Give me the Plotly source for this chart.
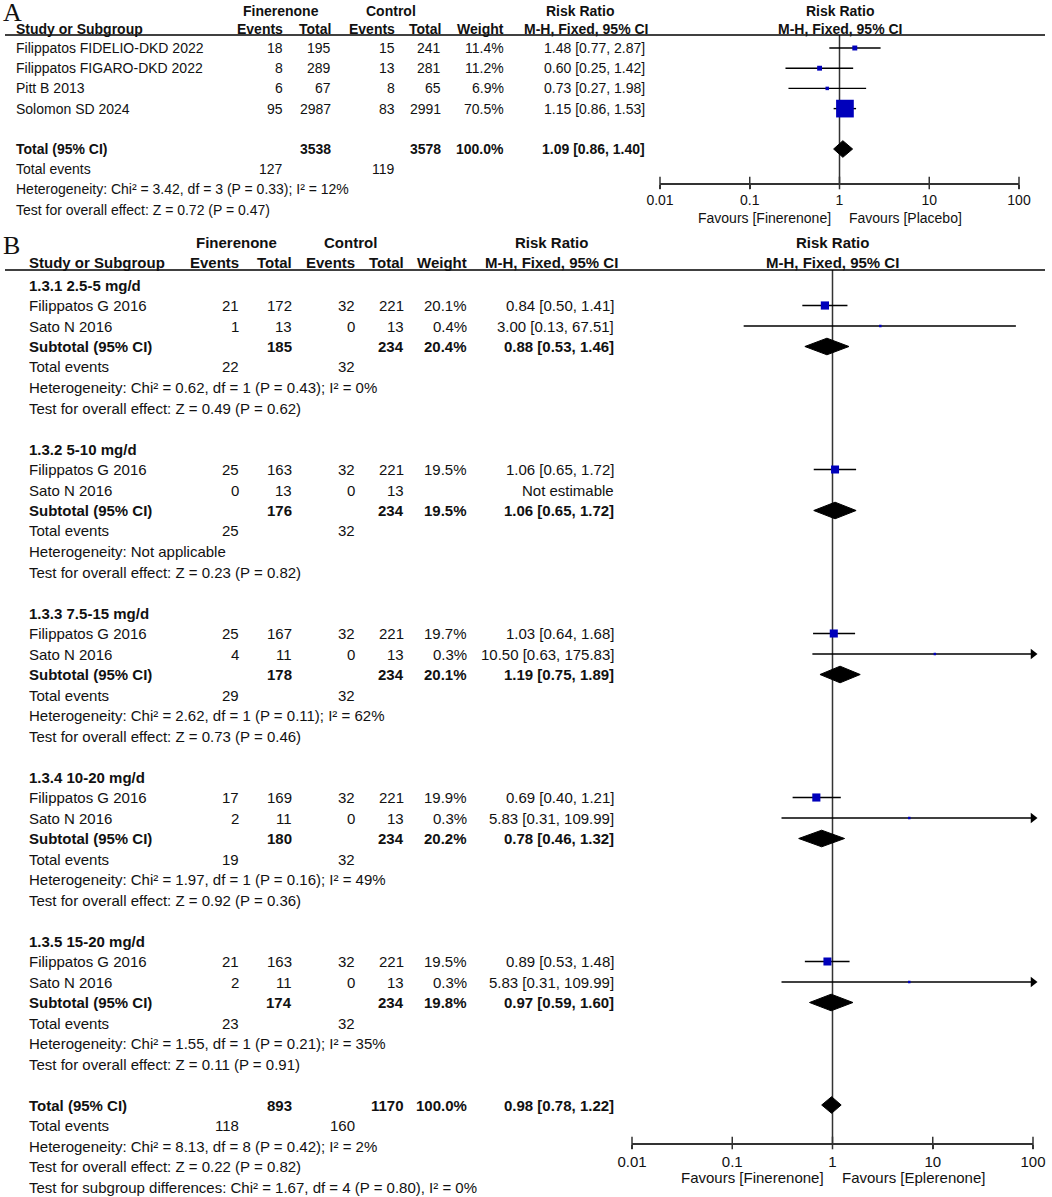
import plotly.graph_objects as go

W, H = 1052, 1197
FONT = "Liberation Sans, Arial, Helvetica, sans-serif"
SERIF = "Liberation Serif, Times New Roman, serif"
TXT = "#111111"
BLUE = "#0000BB"
INK = "#000000"
AXC = "#333333"

# ---------------- shared axis ticks ----------------
tick_vals = [0.01, 0.1, 1, 10, 100]
tick_text = ["0.01", "0.1", "1", "10", "100"]

# ---------------- Panel A data ----------------
A_studies = ["Filippatos FIDELIO-DKD 2022", "Filippatos FIGARO-DKD 2022", "Pitt B 2013", "Solomon SD 2024"]
A_fin_events = [18, 8, 6, 95]
A_fin_total = [195, 289, 67, 2987]
A_ctl_events = [15, 13, 8, 83]
A_ctl_total = [241, 281, 65, 2991]
A_weight = [11.4, 11.2, 6.9, 70.5]
A_rr = [1.48, 0.60, 0.73, 1.15]
A_lo = [0.77, 0.25, 0.27, 0.86]
A_hi = [2.87, 1.42, 1.98, 1.53]
A_tot_fin_total = 3538
A_tot_ctl_total = 3578
A_tot_weight = 100.0
A_tot_rr, A_tot_lo, A_tot_hi = 1.09, 0.86, 1.40
A_ev_fin, A_ev_ctl = 127, 119
A_het = "Heterogeneity: Chi² = 3.42, df = 3 (P = 0.33); I² = 12%"
A_test = "Test for overall effect: Z = 0.72 (P = 0.47)"
A_fav = ["Favours [Finerenone]", "Favours [Placebo]"]

# ---------------- Panel B data ----------------
B_groups = ["1.3.1 2.5-5 mg/d", "1.3.2 5-10 mg/d", "1.3.3 7.5-15 mg/d", "1.3.4 10-20 mg/d", "1.3.5 15-20 mg/d"]
B_s1_name = "Filippatos G 2016"
B_s1_fin_events = [21, 25, 25, 17, 21]
B_s1_fin_total = [172, 163, 167, 169, 163]
B_s1_ctl_events = [32, 32, 32, 32, 32]
B_s1_ctl_total = [221, 221, 221, 221, 221]
B_s1_weight = [20.1, 19.5, 19.7, 19.9, 19.5]
B_s1_rr = [0.84, 1.06, 1.03, 0.69, 0.89]
B_s1_lo = [0.50, 0.65, 0.64, 0.40, 0.53]
B_s1_hi = [1.41, 1.72, 1.68, 1.21, 1.48]
B_s2_name = "Sato N 2016"
B_s2_fin_events = [1, 0, 4, 2, 2]
B_s2_fin_total = [13, 13, 11, 11, 11]
B_s2_ctl_events = [0, 0, 0, 0, 0]
B_s2_ctl_total = [13, 13, 13, 13, 13]
B_s2_weight = [0.4, None, 0.3, 0.3, 0.3]
B_s2_rr = [3.00, None, 10.50, 5.83, 5.83]
B_s2_lo = [0.13, None, 0.63, 0.31, 0.31]
B_s2_hi = [67.51, None, 175.83, 109.99, 109.99]
B_sub_fin_total = [185, 176, 178, 180, 174]
B_sub_ctl_total = [234, 234, 234, 234, 234]
B_sub_weight = [20.4, 19.5, 20.1, 20.2, 19.8]
B_sub_rr = [0.88, 1.06, 1.19, 0.78, 0.97]
B_sub_lo = [0.53, 0.65, 0.75, 0.46, 0.59]
B_sub_hi = [1.46, 1.72, 1.89, 1.32, 1.60]
B_ev_fin = [22, 25, 29, 19, 23]
B_ev_ctl = [32, 32, 32, 32, 32]
B_het = [
    "Heterogeneity: Chi² = 0.62, df = 1 (P = 0.43); I² = 0%",
    "Heterogeneity: Not applicable",
    "Heterogeneity: Chi² = 2.62, df = 1 (P = 0.11); I² = 62%",
    "Heterogeneity: Chi² = 1.97, df = 1 (P = 0.16); I² = 49%",
    "Heterogeneity: Chi² = 1.55, df = 1 (P = 0.21); I² = 35%",
]
B_test = [
    "Test for overall effect: Z = 0.49 (P = 0.62)",
    "Test for overall effect: Z = 0.23 (P = 0.82)",
    "Test for overall effect: Z = 0.73 (P = 0.46)",
    "Test for overall effect: Z = 0.92 (P = 0.36)",
    "Test for overall effect: Z = 0.11 (P = 0.91)",
]
B_tot_fin_total = 893
B_tot_ctl_total = 1170
B_tot_weight = 100.0
B_tot_rr, B_tot_lo, B_tot_hi = 0.98, 0.78, 1.22
B_tot_ev_fin, B_tot_ev_ctl = 118, 160
B_tot_het = "Heterogeneity: Chi² = 8.13, df = 8 (P = 0.42); I² = 2%"
B_tot_test = "Test for overall effect: Z = 0.22 (P = 0.82)"
B_subgroup_test = "Test for subgroup differences: Chi² = 1.67, df = 4 (P = 0.80), I² = 0%"
B_fav = ["Favours [Finerenone]", "Favours [Eplerenone]"]

# ---------------- layout geometry (pixels) ----------------
CFG = {
    "A": dict(xa="x", ya="y", xk="xaxis", yk="yaxis", ax0=660, ax1=1019, top=35, axis=183,
              row0=48, drow=20.2, fs=14, name_x=14, cols=[285, 333, 397, 443, 506, 647],
              hdr1=11, hdr2=29, fin_c=281, ctl_c=391, rr_c=580, mh_c=586, label="A",
              label_y=-4, line_x0=5, line_x1=1045, fav_y=218, sq=0.9),
    "B": dict(xa="x2", ya="y2", xk="xaxis2", yk="yaxis2", ax0=632, ax1=1033, top=270, axis=1143,
              row0=285, drow=20.5, fs=15, name_x=27, cols=[241, 294, 357, 406, 469, 616],
              hdr1=243, hdr2=262, fin_c=236, ctl_c=350, rr_c=551, mh_c=551, label="B",
              label_y=229, line_x0=5, line_x1=1045, fav_y=1177, sq=1.0),
}


def fmt_ci(rr, lo, hi):
    return f"{rr:.2f} [{lo:.2f}, {hi:.2f}]"


def fmt_w(w):
    return "" if w is None else f"{w:.1f}%"


# ---------------- build row descriptions ----------------
rowsA = []
for i in range(len(A_studies)):
    rowsA.append(dict(r=i, name=A_studies[i], bold=False, kind="study",
                      cells=[A_fin_events[i], A_fin_total[i], A_ctl_events[i], A_ctl_total[i],
                             fmt_w(A_weight[i]), fmt_ci(A_rr[i], A_lo[i], A_hi[i])],
                      est=(A_rr[i], A_lo[i], A_hi[i], A_weight[i])))
rowsA.append(dict(r=5, name="Total (95% CI)", bold=True, kind="diamond",
                  cells=["", A_tot_fin_total, "", A_tot_ctl_total, fmt_w(A_tot_weight),
                         fmt_ci(A_tot_rr, A_tot_lo, A_tot_hi)],
                  est=(A_tot_rr, A_tot_lo, A_tot_hi, None)))
rowsA.append(dict(r=6, name="Total events", bold=False, kind="text",
                  cells=[A_ev_fin, "", A_ev_ctl, "", "", ""]))
rowsA.append(dict(r=7, name=A_het, bold=False, kind="text", cells=None))
rowsA.append(dict(r=8, name=A_test, bold=False, kind="text", cells=None))

rowsB = []
for g in range(len(B_groups)):
    b = 8 * g
    rowsB.append(dict(r=b, name=B_groups[g], bold=True, kind="text", cells=None))
    rowsB.append(dict(r=b + 1, name=B_s1_name, bold=False, kind="study",
                      cells=[B_s1_fin_events[g], B_s1_fin_total[g], B_s1_ctl_events[g], B_s1_ctl_total[g],
                             fmt_w(B_s1_weight[g]), fmt_ci(B_s1_rr[g], B_s1_lo[g], B_s1_hi[g])],
                      est=(B_s1_rr[g], B_s1_lo[g], B_s1_hi[g], B_s1_weight[g])))
    if B_s2_rr[g] is None:
        rowsB.append(dict(r=b + 2, name=B_s2_name, bold=False, kind="text",
                          cells=[B_s2_fin_events[g], B_s2_fin_total[g], B_s2_ctl_events[g], B_s2_ctl_total[g],
                                 "", "Not estimable"]))
    else:
        rowsB.append(dict(r=b + 2, name=B_s2_name, bold=False, kind="study",
                          cells=[B_s2_fin_events[g], B_s2_fin_total[g], B_s2_ctl_events[g], B_s2_ctl_total[g],
                                 fmt_w(B_s2_weight[g]), fmt_ci(B_s2_rr[g], B_s2_lo[g], B_s2_hi[g])],
                          est=(B_s2_rr[g], B_s2_lo[g], B_s2_hi[g], B_s2_weight[g])))
    rowsB.append(dict(r=b + 3, name="Subtotal (95% CI)", bold=True, kind="diamond",
                      cells=["", B_sub_fin_total[g], "", B_sub_ctl_total[g], fmt_w(B_sub_weight[g]),
                             fmt_ci(B_sub_rr[g], B_sub_lo[g], B_sub_hi[g])],
                      est=(B_sub_rr[g], B_sub_lo[g], B_sub_hi[g], None)))
    rowsB.append(dict(r=b + 4, name="Total events", bold=False, kind="text",
                      cells=[B_ev_fin[g], "", B_ev_ctl[g], "", "", ""]))
    rowsB.append(dict(r=b + 5, name=B_het[g], bold=False, kind="text", cells=None))
    rowsB.append(dict(r=b + 6, name=B_test[g], bold=False, kind="text", cells=None))
nb = 8 * len(B_groups)
rowsB.append(dict(r=nb, name="Total (95% CI)", bold=True, kind="diamond",
                  cells=["", B_tot_fin_total, "", B_tot_ctl_total, fmt_w(B_tot_weight),
                         fmt_ci(B_tot_rr, B_tot_lo, B_tot_hi)],
                  est=(B_tot_rr, B_tot_lo, B_tot_hi, None)))
rowsB.append(dict(r=nb + 1, name="Total events", bold=False, kind="text",
                  cells=[B_tot_ev_fin, "", B_tot_ev_ctl, "", "", ""]))
rowsB.append(dict(r=nb + 2, name=B_tot_het, bold=False, kind="text", cells=None))
rowsB.append(dict(r=nb + 3, name=B_tot_test, bold=False, kind="text", cells=None))
rowsB.append(dict(r=nb + 4, name=B_subgroup_test, bold=False, kind="text", cells=None))

# ---------------- drawing ----------------
fig = go.Figure()
annotations = []
shapes = []
layout_axes = {}


def px(xp):
    return xp / W


def py(yp):
    return 1 - yp / H


def text(s, x, y, xref="paper", yref="paper", anchor="left", size=14, bold=False,
         family=FONT, xshift=0, yanchor="middle"):
    annotations.append(dict(text=f"<b>{s}</b>" if bold else str(s), x=x, y=y, xref=xref, yref=yref,
                            xanchor=anchor, yanchor=yanchor, showarrow=False, xshift=xshift,
                            font=dict(family=family, size=size, color=TXT)))


def draw_panel(c, rows, fav):
    xmin, xmax = tick_vals[0], tick_vals[-1]
    ytop = (c["top"] - c["row0"]) / c["drow"]
    ybot = (c["axis"] - c["row0"]) / c["drow"]
    fs = c["fs"]
    xa, ya = c["xa"], c["ya"]

    def row_y(r):  # row index -> paper y (same mapping as the y axis)
        return py(c["row0"] + c["drow"] * r)

    layout_axes[c["xk"]] = dict(
        type="log", range=[-2, 2], domain=[px(c["ax0"]), px(c["ax1"])], anchor=ya,
        showline=True, linecolor=AXC, linewidth=1.5, showgrid=False, zeroline=False,
        tickvals=tick_vals, ticktext=tick_text, ticks="outside", ticklen=4, tickwidth=1.5,
        tickcolor=AXC, tickfont=dict(family=FONT, size=fs, color=TXT), fixedrange=True,
    )
    layout_axes[c["yk"]] = dict(
        range=[ybot, ytop], domain=[py(c["axis"]), py(c["top"])], anchor=xa, visible=False,
        fixedrange=True,
    )

    # reference line at RR = 1
    fig.add_trace(go.Scatter(x=[1, 1], y=[ytop, ybot], mode="lines", xaxis=xa, yaxis=ya,
                             line=dict(color=AXC, width=1.5), hoverinfo="skip", showlegend=False))
    # tick marks crossing the axis line
    fig.add_trace(go.Scatter(x=tick_vals, y=[ybot] * len(tick_vals), mode="markers", xaxis=xa, yaxis=ya,
                             marker=dict(symbol="line-ns", size=9, line=dict(color=AXC, width=1.5)),
                             cliponaxis=False, hoverinfo="skip", showlegend=False))

    cx, cy, sx, sy, ss, arx, ary = [], [], [], [], [], [], []
    for row in rows:
        r = row["r"]
        yy = row_y(r)
        text(row["name"], px(c["name_x"]), yy, size=fs, bold=row["bold"])
        if row["cells"]:
            for j, v in enumerate(row["cells"]):
                if v == "":
                    continue
                text(v, px(c["cols"][j]), yy, anchor="right", size=fs,
                     bold=row["bold"] and j > 0)
        if row["kind"] == "study":
            rr, lo, hi, w = row["est"]
            cx += [max(lo, xmin), min(hi, xmax), None]
            cy += [r, r, None]
            sx.append(rr)
            sy.append(r)
            ss.append(max(2.5, c["sq"] * w ** 0.7))
            if hi > xmax:
                arx.append(xmax)
                ary.append(r)
        elif row["kind"] == "diamond":
            rr, lo, hi, _ = row["est"]
            h = 8.3 / c["drow"]
            fig.add_trace(go.Scatter(x=[lo, rr, hi, rr, lo], y=[r, r - h, r, r + h, r], mode="lines",
                                     fill="toself", fillcolor=INK, line=dict(color=INK, width=1),
                                     xaxis=xa, yaxis=ya, hoverinfo="skip", showlegend=False))

    fig.add_trace(go.Scatter(x=cx, y=cy, mode="lines", xaxis=xa, yaxis=ya,
                             line=dict(color=INK, width=1.4), hoverinfo="skip", showlegend=False))
    fig.add_trace(go.Scatter(x=sx, y=sy, mode="markers", xaxis=xa, yaxis=ya,
                             marker=dict(symbol="square", size=ss, color=BLUE, opacity=1,
                                         line=dict(width=0)),
                             hoverinfo="skip", showlegend=False))
    if arx:
        fig.add_trace(go.Scatter(x=arx, y=ary, mode="markers", xaxis=xa, yaxis=ya, cliponaxis=False,
                                 marker=dict(symbol="triangle-right", size=9, color=INK),
                                 hoverinfo="skip", showlegend=False))

    # headers
    text(c["label"], px(1), py(c["label_y"]), size=26, family=SERIF, yanchor="top")
    text("Finerenone", px(c["fin_c"]), py(c["hdr1"]), anchor="center", size=fs, bold=True)
    text("Control", px(c["ctl_c"]), py(c["hdr1"]), anchor="center", size=fs, bold=True)
    text("Risk Ratio", px(c["rr_c"]), py(c["hdr1"]), anchor="center", size=fs, bold=True)
    text("Risk Ratio", 0.5, py(c["hdr1"]), xref=xa + " domain", anchor="center", size=fs, bold=True)
    text("Study or Subgroup", px(c["name_x"]), py(c["hdr2"]), size=fs, bold=True)
    for j, lab in enumerate(["Events", "Total", "Events", "Total", "Weight"]):
        text(lab, px(c["cols"][j]), py(c["hdr2"]), anchor="right", size=fs, bold=True)
    text("M-H, Fixed, 95% CI", px(c["mh_c"]), py(c["hdr2"]), anchor="center", size=fs, bold=True)
    text("M-H, Fixed, 95% CI", 0.5, py(c["hdr2"]), xref=xa + " domain", anchor="center", size=fs, bold=True)
    shapes.append(dict(type="line", xref="paper", yref="paper", x0=px(c["line_x0"]), x1=px(c["line_x1"]),
                       y0=py(c["top"]), y1=py(c["top"]), line=dict(color=INK, width=1.5)))

    # favours labels around RR = 1 (log10(1) = 0)
    text(fav[0], 0, py(c["fav_y"]), xref=xa, anchor="right", size=fs, xshift=-7)
    text(fav[1], 0, py(c["fav_y"]), xref=xa, anchor="left", size=fs, xshift=7)


draw_panel(CFG["A"], rowsA, A_fav)
draw_panel(CFG["B"], rowsB, B_fav)

fig.update_layout(
    width=W, height=H, margin=dict(l=0, r=0, t=0, b=0, pad=0, autoexpand=False),
    paper_bgcolor="white", plot_bgcolor="white", showlegend=False,
    annotations=annotations, shapes=shapes, **layout_axes,
)

fig.write_html("out.html", config={"displayModeBar": False, "staticPlot": True},
               post_script="document.body.style.margin='0';document.body.style.overflow='hidden';")
